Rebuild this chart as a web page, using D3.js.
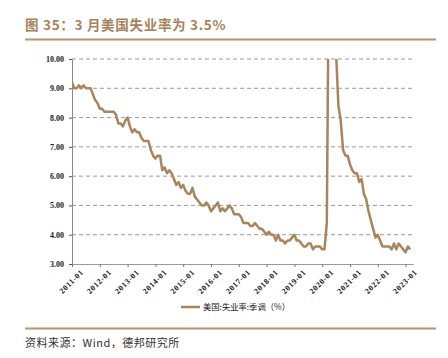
<!DOCTYPE html>
<html>
<head>
<meta charset="utf-8">
<script src="https://cdn.jsdelivr.net/npm/d3@7"></script>
<style>
  body { margin: 0; background: #fff; }
  svg { display: block; }
</style>
</head>
<body>
<svg id="chart" width="448" height="358"></svg>
<script>
// monthly US unemployment rate, seasonally adjusted, 2011-01 .. 2023-03
var startYear = 2011;
var rate2011 = [9.2, 9.0, 9.0, 9.1, 9.0, 9.1, 9.0, 9.0, 9.0, 8.8, 8.6, 8.5];
var rate2012 = [8.3, 8.3, 8.2, 8.2, 8.2, 8.2, 8.2, 8.1, 7.8, 7.8, 7.7, 7.9];
var rate2013 = [8.0, 7.7, 7.5, 7.6, 7.5, 7.5, 7.3, 7.2, 7.2, 7.2, 6.9, 6.7];
var rate2014 = [6.6, 6.7, 6.7, 6.2, 6.3, 6.1, 6.2, 6.1, 5.9, 5.7, 5.8, 5.6];
var rate2015 = [5.7, 5.5, 5.4, 5.4, 5.6, 5.3, 5.2, 5.1, 5.0, 5.0, 5.1, 5.0];
var rate2016 = [4.8, 4.9, 5.0, 5.1, 4.8, 4.9, 4.8, 4.9, 5.0, 4.9, 4.7, 4.7];
var rate2017 = [4.7, 4.6, 4.4, 4.4, 4.4, 4.3, 4.3, 4.4, 4.3, 4.2, 4.2, 4.1];
var rate2018 = [4.0, 4.1, 4.0, 4.0, 3.8, 4.0, 3.8, 3.8, 3.7, 3.8, 3.8, 3.9];
var rate2019 = [4.0, 3.8, 3.8, 3.7, 3.6, 3.6, 3.7, 3.7, 3.5, 3.6, 3.6, 3.6];
var rate2020 = [3.5, 3.5, 4.4, 14.7, 13.2, 11.0, 10.2, 8.4, 7.9, 6.9, 6.7, 6.7];
var rate2021 = [6.4, 6.2, 6.1, 6.1, 5.8, 5.9, 5.4, 5.2, 4.8, 4.5, 4.2, 3.9];
var rate2022 = [4.0, 3.8, 3.6, 3.6, 3.6, 3.6, 3.5, 3.7, 3.5, 3.7, 3.6, 3.5];
var rate2023 = [3.4, 3.6, 3.5];

var yTicks = [3, 4, 5, 6, 7, 8, 9, 10];
var tickYears = [2011, 2012, 2013, 2014, 2015, 2016, 2017, 2018, 2019, 2020, 2021, 2022, 2023];

var title = "图 35：3 月美国失业率为 3.5%";
var seriesName = "美国:失业率:季调（%）";
var source = "资料来源：Wind，德邦研究所";

var rates = [].concat(rate2011, rate2012, rate2013, rate2014, rate2015, rate2016,
  rate2017, rate2018, rate2019, rate2020, rate2021, rate2022, rate2023);
var points = rates.map(function(v, i) { return {m: i, v: v}; });

var brown = "#a8855c",
    serif = "'Liberation Serif', 'DejaVu Serif', serif",
    cjk = "'Noto Sans CJK SC', sans-serif";

var svg = d3.select("#chart");

var x = d3.scaleLinear().domain([0, 147.2]).range([72, 413]);
var y = d3.scaleLinear().domain([3, 10]).range([264, 59]);

// title + rules
svg.append("text")
    .attr("x", 25).attr("y", 30)
    .attr("font-family", cjk).attr("font-weight", "bold")
    .attr("font-size", 13.5).attr("fill", "#a6835d")
    .attr("letter-spacing", 0.7)
    .text(title);
svg.append("line")
    .attr("x1", 25).attr("x2", 436).attr("y1", 39.5).attr("y2", 39.5)
    .attr("stroke", "#b39473").attr("stroke-width", 2);
svg.append("line")
    .attr("x1", 25).attr("x2", 436).attr("y1", 328.5).attr("y2", 328.5)
    .attr("stroke", "#b39473").attr("stroke-width", 2);

svg.append("text")
    .attr("x", 25).attr("y", 347)
    .attr("font-family", cjk).attr("font-size", 11).attr("fill", "#333")
    .attr("letter-spacing", 0.5)
    .text(source);

// grid
svg.append("g").selectAll("line")
    .data(yTicks.filter(function(d) { return d > 3; }))
    .enter().append("line")
    .attr("x1", 72).attr("x2", 413)
    .attr("y1", function(d) { return y(d); })
    .attr("y2", function(d) { return y(d); })
    .attr("stroke", "#9a9a9a").attr("stroke-width", 1)
    .attr("stroke-dasharray", "4,3");

// axes
var yAxis = svg.append("g")
    .attr("transform", "translate(72,0)")
    .call(d3.axisLeft(y).tickValues(yTicks).tickSize(3).tickFormat(d3.format(".2f")));
yAxis.select(".domain").attr("stroke", "#888");
yAxis.selectAll(".tick line").attr("stroke", "#555");
yAxis.selectAll("text")
    .attr("font-family", serif).attr("font-weight", "bold")
    .attr("font-size", 8).attr("fill", "#222").attr("dx", "-2");

var xAxis = svg.append("g")
    .attr("transform", "translate(0,264)")
    .call(d3.axisBottom(x)
      .tickValues(tickYears.map(function(yr) { return (yr - startYear) * 12; }))
      .tickSize(3).tickSizeOuter(0)
      .tickFormat(function(d) { return (startYear + d / 12) + "-01"; }));
xAxis.select(".domain").attr("stroke", "#999");
xAxis.selectAll(".tick line").attr("stroke", "#777");
xAxis.selectAll("text")
    .attr("font-family", serif).attr("font-weight", "bold")
    .attr("font-size", 8).attr("fill", "#222")
    .attr("letter-spacing", 0.6)
    .attr("text-anchor", "end")
    .attr("transform", "translate(4,1) rotate(-45)")
    .attr("dy", "0.6em");

// line, clipped at 10.00
svg.append("clipPath").attr("id", "plot")
  .append("rect").attr("x", 72).attr("y", 59).attr("width", 345).attr("height", 206);

svg.append("path")
    .datum(points)
    .attr("clip-path", "url(#plot)")
    .attr("fill", "none")
    .attr("stroke", brown).attr("stroke-width", 2.5)
    .attr("stroke-linejoin", "round")
    .attr("d", d3.line()
      .x(function(d) { return x(d.m); })
      .y(function(d) { return y(d.v); }));

// legend
var legend = svg.append("g").attr("transform", "translate(181,307)");
legend.append("line")
    .attr("x1", 0).attr("x2", 19)
    .attr("stroke", brown).attr("stroke-width", 2.5);
legend.append("text")
    .attr("x", 22).attr("y", 3)
    .attr("font-family", cjk).attr("font-size", 8.3).attr("fill", "#222")
    .text(seriesName);
</script>
</body>
</html>
